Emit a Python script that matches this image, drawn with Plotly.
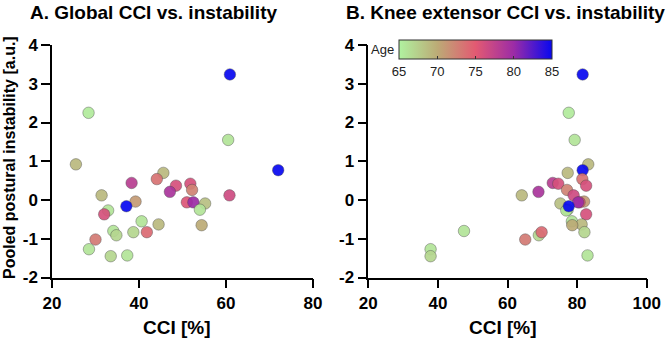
import plotly.graph_objects as go

# Participants (same order in both panels)
instability = [3.24, 2.25, 1.55, 0.92, 0.77, 0.70, 0.54, 0.44, 0.37, 0.42, 0.26, 0.21, 0.12, 0.12,
               -0.04, -0.06, -0.06, -0.09, -0.25, -0.27, -0.37, -0.55, -0.63, -0.65, -0.80,
               -0.91, -0.83, -0.83, -1.02, -1.27, -1.45, -1.43, -0.16]
global_cci = [60.9, 28.4, 60.5, 25.5, 72.0, 45.6, 44.1, 38.3, 48.5, 51.8, 52.2, 47.1, 60.8, 31.4,
              39.2, 51.0, 52.5, 55.2, 54.0, 32.9, 32.0, 40.6, 44.5, 54.4, 34.1,
              34.8, 38.7, 41.8, 30.0, 28.5, 33.5, 37.3, 37.1]
knee_cci = [81.6, 77.6, 79.3, 83.2, 81.6, 77.3, 81.5, 73.0, 82.6, 74.6, 77.1, 68.9, 79.0, 64.1,
            82.0, 80.7, 80.3, 75.2, 77.3, 76.9, 82.6, 78.5, 81.3, 78.6, 47.5,
            69.0, 82.1, 69.8, 65.1, 37.9, 37.9, 83.0, 77.6]
age = [85, 65.5, 66, 69, 85, 69, 73.5, 78, 76, 76, 72.5, 79, 76.5, 69,
       71, 75.5, 80, 68.5, 66, 66, 76, 66, 69, 70, 66,
       67, 67, 74, 73, 66, 67, 66, 85]

titles = ["A. Global CCI vs. instability", "B. Knee extensor CCI vs. instability"]
x_ticks_a = [20, 40, 60, 80]
x_ticks_b = [20, 40, 60, 80, 100]
y_ticks = [-2, -1, 0, 1, 2, 3, 4]
y_tick_text = ["-2", "-1", "0", "1", "2", "3", "4"]
age_ticks = [65, 70, 75, 80, 85]

W, H = 669, 339
FONT = "Liberation Sans, Arial, sans-serif"
colorscale = [[0.0, "#b0f2a0"], [0.25, "#bcab76"], [0.5, "#e35a72"], [0.75, "#9c2ca6"], [1.0, "#0808f0"]]

def px_x(p):
    return p / W

def px_y(p):
    return (H - p) / H

marker_common = dict(size=11.5, colorscale=colorscale, cmin=65, cmax=85,
                     line=dict(color="rgba(70,70,70,0.55)", width=0.8), opacity=0.92)

fig = go.Figure()
fig.add_trace(go.Scatter(x=global_cci, y=instability, mode="markers", xaxis="x", yaxis="y",
                         marker=dict(color=age, showscale=False, **marker_common),
                         showlegend=False, hoverinfo="skip"))
fig.add_trace(go.Scatter(x=knee_cci, y=instability, mode="markers", xaxis="x2", yaxis="y2",
                         marker=dict(color=age, showscale=True,
                                     colorbar=dict(orientation="h", x=px_x(399), xanchor="left",
                                                   y=px_y(40), yanchor="top",
                                                   len=153, lenmode="pixels",
                                                   thickness=19, thicknessmode="pixels",
                                                   xpad=0, ypad=0, outlinewidth=1, outlinecolor="#333",
                                                   tickvals=age_ticks, ticks="inside", ticklen=3,
                                                   tickcolor="#333",
                                                   tickfont=dict(family=FONT, size=13, color="#222")),
                                     **marker_common),
                         showlegend=False, hoverinfo="skip"))

axis_common = dict(showgrid=False, zeroline=False, showline=True, linecolor="black", linewidth=1.5,
                   ticks="outside", ticklen=9, tickwidth=1.5, tickcolor="black",
                   tickfont=dict(family=FONT, size=17, color="black", weight="bold"))

fig.update_layout(
    width=W, height=H, margin=dict(l=0, r=0, t=0, b=0, autoexpand=False),
    paper_bgcolor="white", plot_bgcolor="white",
    xaxis=dict(domain=[px_x(52), px_x(313)], range=[20, 80], tickvals=x_ticks_a, anchor="y", **axis_common),
    yaxis=dict(domain=[px_y(277.5), px_y(45)], range=[-2, 4], tickvals=y_ticks, ticktext=y_tick_text,
               anchor="x", **axis_common),
    xaxis2=dict(domain=[px_x(368.3), px_x(646.7)], range=[20, 100], tickvals=x_ticks_b, anchor="y2", **axis_common),
    yaxis2=dict(domain=[px_y(277.5), px_y(45)], range=[-2, 4], tickvals=y_ticks, ticktext=y_tick_text,
                anchor="x2", **axis_common),
)

ann = [
    dict(text=titles[0], x=px_x(28), y=px_y(13), xanchor="left", yanchor="middle"),
    dict(text=titles[1], x=px_x(344), y=px_y(13), xanchor="left", yanchor="middle"),
]
for a in ann:
    a.update(xref="paper", yref="paper", showarrow=False,
             font=dict(family=FONT, size=19, color="black", weight="bold"))
ann += [
    dict(text="Pooled postural instability [a.u.]", x=px_x(9), y=px_y(158), textangle=-90,
         xanchor="center", yanchor="middle", xref="paper", yref="paper", showarrow=False,
         font=dict(family=FONT, size=16, color="black", weight="bold")),
    dict(text="CCI [%]", x=px_x(177), y=px_y(327), xanchor="center", yanchor="middle",
         xref="paper", yref="paper", showarrow=False,
         font=dict(family=FONT, size=19, color="black", weight="bold")),
    dict(text="CCI [%]", x=px_x(503), y=px_y(327), xanchor="center", yanchor="middle",
         xref="paper", yref="paper", showarrow=False,
         font=dict(family=FONT, size=19, color="black", weight="bold")),
    dict(text="Age", x=px_x(396), y=px_y(49), xanchor="right", yanchor="middle",
         xref="paper", yref="paper", showarrow=False,
         font=dict(family=FONT, size=13, color="#222")),
]
fig.update_layout(annotations=ann)

fig.write_html("out.html", config={"displayModeBar": False},
               post_script="document.body.style.margin='0';document.body.style.overflow='hidden';")
